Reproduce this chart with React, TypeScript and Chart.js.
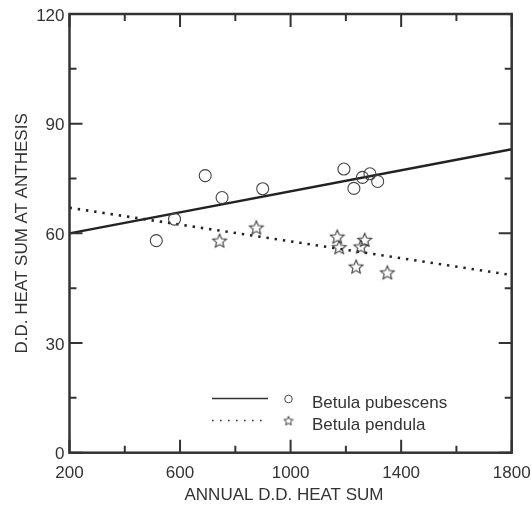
import React, { useEffect, useRef } from "react";
import { Chart, registerables } from "chart.js";

Chart.register(...registerables);

// ---- Data ----
const pubescensX = [514, 580, 691, 752, 899, 1193, 1229, 1260, 1287, 1315];
const pubescensY = [58.0, 63.9, 75.8, 69.8, 72.2, 77.6, 72.3, 75.3, 76.3, 74.2];
const pendulaX = [743, 876, 1169, 1176, 1254, 1268, 1237, 1350];
const pendulaY = [58.0, 61.6, 59.1, 56.2, 56.4, 58.2, 50.9, 49.3];
const fitX = [200, 1800];
const pubescensFitY = [60, 83];
const pendulaFitY = [67, 48.6];
const seriesLabels = ["Betula pubescens", "Betula pendula"];
const xTicks = [200, 600, 1000, 1400, 1800];
const yTicks = [0, 30, 60, 90, 120];
const xTitle = "ANNUAL D.D. HEAT SUM";
const yTitle = "D.D. HEAT SUM AT ANTHESIS";

const INK = "#333";
const FONT = "'Liberation Sans', Arial, sans-serif";

function makeStar(size: number, outer: number, inner: number, lw: number) {
  const c = document.createElement("canvas");
  c.width = size;
  c.height = size;
  const ctx = c.getContext("2d")!;
  ctx.beginPath();
  for (let i = 0; i < 10; i++) {
    const r = i % 2 === 0 ? outer : inner;
    const a = -Math.PI / 2 + (i * Math.PI) / 5;
    const px = size / 2 + r * Math.cos(a);
    const py = size / 2 + 0.6 + r * Math.sin(a);
    if (i === 0) ctx.moveTo(px, py);
    else ctx.lineTo(px, py);
  }
  ctx.closePath();
  ctx.strokeStyle = "#3a3a3a";
  ctx.lineWidth = lw;
  ctx.stroke();
  return c;
}

let legendStar: HTMLCanvasElement;

const framePlugin = {
  id: "frameTicks",
  afterDraw(chart: any) {
    const { ctx, chartArea: a, scales } = chart;
    const xs = scales.x;
    const ys = scales.y;
    ctx.save();
    ctx.strokeStyle = INK;
    ctx.lineWidth = 2;
    // inward tick marks
    for (let v = 200; v <= 1800; v += 200) {
      const major = (v - 200) % 400 === 0;
      const len = major ? 13 : 7;
      const px = xs.getPixelForValue(v);
      ctx.beginPath();
      ctx.moveTo(px, a.bottom);
      ctx.lineTo(px, a.bottom - len);
      ctx.moveTo(px, a.top);
      ctx.lineTo(px, a.top + len);
      ctx.stroke();
    }
    for (let v = 0; v <= 120; v += 15) {
      const major = v % 30 === 0;
      const len = major ? 13 : 7;
      const py = ys.getPixelForValue(v);
      ctx.beginPath();
      ctx.moveTo(a.left, py);
      ctx.lineTo(a.left + len, py);
      ctx.moveTo(a.right, py);
      ctx.lineTo(a.right - len, py);
      ctx.stroke();
    }
    // frame
    ctx.lineWidth = 2.5;
    ctx.strokeRect(a.left, a.top, a.right - a.left, a.bottom - a.top);

    // x-axis title
    ctx.fillStyle = INK;
    ctx.font = `17px ${FONT}`;
    ctx.textAlign = "center";
    ctx.textBaseline = "middle";
    ctx.fillText(xTitle, 284, 495);

    // legend
    const ds = chart.data.datasets;
    const rows = [
      { y: 398.5, dash: [] as number[], lw: 1.6, marker: "circle", label: ds[0].label },
      { y: 420.5, dash: [1.6, 6.4], lw: 1.6, marker: "star", label: ds[1].label },
    ];
    rows.forEach((r) => {
      ctx.beginPath();
      ctx.setLineDash(r.dash);
      ctx.lineWidth = r.lw;
      ctx.strokeStyle = INK;
      ctx.moveTo(212, r.y);
      ctx.lineTo(268, r.y);
      ctx.stroke();
      ctx.setLineDash([]);
      if (r.marker === "circle") {
        ctx.beginPath();
        ctx.lineWidth = 1;
        ctx.strokeStyle = "#444";
        ctx.arc(288.5, r.y + 0.5, 3.8, 0, Math.PI * 2);
        ctx.stroke();
      } else {
        const img = legendStar;
        ctx.drawImage(img, 288.5 - img.width / 2, r.y - img.height / 2);
      }
      ctx.fillStyle = INK;
      ctx.font = `17px ${FONT}`;
      ctx.textAlign = "left";
      ctx.textBaseline = "alphabetic";
      ctx.fillText(r.label, 312, r.y + 9.5);
    });
    ctx.restore();
  },
};

export default function App() {
  const ref = useRef<HTMLCanvasElement>(null);
  useEffect(() => {
    const canvas = ref.current!;
    const star = makeStar(18, 7.2, 3.3, 1.1);
    legendStar = makeStar(12, 4.8, 2.2, 1);
    const chart = new Chart(canvas, {
      type: "scatter",
      data: {
        datasets: [
          {
            label: seriesLabels[0],
            data: pubescensX.map((x, i) => ({ x, y: pubescensY[i] })),
            pointStyle: "circle",
            pointRadius: 6,
            pointBorderWidth: 1.1,
            pointBorderColor: "#444",
            pointBackgroundColor: "rgba(0,0,0,0)",
            showLine: false,
          },
          {
            label: seriesLabels[1],
            data: pendulaX.map((x, i) => ({ x, y: pendulaY[i] })),
            pointStyle: star as any,
            pointRadius: 7,
            showLine: false,
          },
          {
            label: seriesLabels[0] + " fit",
            data: fitX.map((x, i) => ({ x, y: pubescensFitY[i] })),
            showLine: true,
            pointRadius: 0,
            borderColor: "#222",
            borderWidth: 2.4,
          },
          {
            label: seriesLabels[1] + " fit",
            data: fitX.map((x, i) => ({ x, y: pendulaFitY[i] })),
            showLine: true,
            pointRadius: 0,
            borderColor: "#222",
            borderWidth: 2.6,
            borderDash: [2.4, 5.9],
            borderCapStyle: "butt",
          },
        ],
      },
      options: {
        responsive: false,
        animation: false,
        devicePixelRatio: 1,
        layout: { padding: { top: 14, right: 19.3, left: 0, bottom: 0 } },
        plugins: { legend: { display: false }, tooltip: { enabled: false } },
        scales: {
          x: {
            type: "linear",
            min: 200,
            max: 1800,
            afterFit: (s: any) => {
              s.height = 53.3;
              s.paddingLeft = 0;
              s.paddingRight = 0;
            },
            afterBuildTicks: (s: any) => {
              s.ticks = xTicks.map((v) => ({ value: v }));
            },
            grid: { display: false, drawTicks: false },
            border: { display: false },
            ticks: {
              padding: 10,
              color: INK,
              font: { family: FONT, size: 17 },
              maxRotation: 0,
              callback: (v: any) => String(v),
            },
            title: { display: false, text: xTitle },
          },
          y: {
            type: "linear",
            min: 0,
            max: 120,
            afterFit: (s: any) => {
              s.width = 69.5;
              s.paddingTop = 0;
              s.paddingBottom = 0;
            },
            afterBuildTicks: (s: any) => {
              s.ticks = yTicks.map((v) => ({ value: v }));
            },
            grid: { display: false, drawTicks: false },
            border: { display: false },
            ticks: {
              padding: 5,
              labelOffset: 2,
              color: INK,
              font: { family: FONT, size: 17 },
              callback: (v: any) => String(v),
            },
            title: {
              display: true,
              text: yTitle,
              color: INK,
              font: { family: FONT, size: 17 },
              padding: { top: 12, bottom: 0 },
            },
          },
        },
      },
      plugins: [framePlugin],
    });
    return () => chart.destroy();
  }, []);
  return (
    <div style={{ position: "absolute", left: 0, top: 0, width: 531, height: 506, background: "#fff" }}>
      <canvas ref={ref} width={531} height={506} style={{ display: "block" }} />
    </div>
  );
}
